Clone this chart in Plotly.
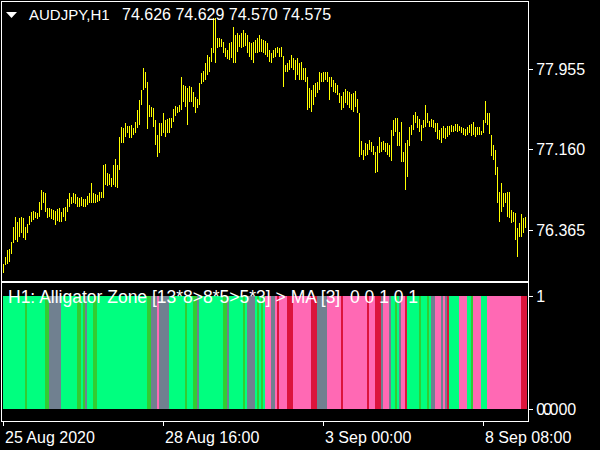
import plotly.graph_objects as go

# ---------------- data ----------------
symbol_name = "AUDJPY,H1"
symbol_ohlc = "74.626 74.629 74.570 74.575"
indicator_title = "H1: Alligator Zone [13*8>8*5>5*3] > MA [3]  0 0 1 0 1"

high = [
    76.037, 76.109, 76.174, 76.181, 76.256, 76.404, 76.496, 76.453, 76.486, 76.496,
    76.486, 76.404, 76.430, 76.509, 76.552, 76.558, 76.552, 76.542, 76.650, 76.765,
    76.748, 76.732, 76.584, 76.584, 76.575, 76.568, 76.561, 76.575, 76.584, 76.552,
    76.591, 76.601, 76.673, 76.739, 76.699, 76.739, 76.725, 76.699, 76.683, 76.699,
    76.673, 76.673, 76.706, 76.739, 76.830, 76.739, 76.725, 76.716, 76.748, 76.748,
    77.011, 77.021, 76.929, 76.922, 76.880, 77.011, 77.067, 77.011, 77.290, 77.388,
    77.372, 77.421, 77.395, 77.395, 77.404, 77.372, 77.437, 77.552, 77.650, 77.749,
    77.962, 77.929, 77.831, 77.601, 77.578, 77.568, 77.454, 77.306, 77.421, 77.421,
    77.526, 77.454, 77.460, 77.470, 77.470, 77.559, 77.591, 77.585, 77.601, 77.880,
    77.798, 77.788, 77.765, 77.788, 77.782, 77.732, 77.677, 77.657, 77.814, 77.919,
    77.939, 78.011, 78.093, 78.077, 78.159, 78.454, 78.454, 78.257, 78.257, 78.247,
    78.224, 78.159, 78.142, 78.208, 78.224, 78.372, 78.290, 78.306, 78.290, 78.313,
    78.339, 78.306, 78.290, 78.224, 78.208, 78.224, 78.241, 78.257, 78.290, 78.247,
    78.241, 78.234, 78.208, 78.142, 78.110, 78.142, 78.159, 78.175, 78.159, 78.169,
    78.083, 77.995, 78.011, 78.044, 78.093, 78.060, 78.044, 78.060, 78.011, 78.028,
    77.962, 77.962, 77.880, 77.765, 77.749, 77.798, 77.814, 77.831, 77.929, 77.913,
    77.929, 77.929, 77.929, 77.880, 77.880, 77.847, 77.814, 77.798, 77.716, 77.690,
    77.732, 77.755, 77.742, 77.732, 77.709, 77.716, 77.742, 77.657, 77.519, 77.250,
    77.158, 77.231, 77.217, 77.257, 77.240, 77.198, 77.142, 77.198, 77.290, 77.240,
    77.250, 77.224, 77.231, 77.208, 77.355, 77.454, 77.470, 77.470, 77.339, 77.437,
    77.142, 77.231, 77.257, 77.388, 77.404, 77.503, 77.536, 77.493, 77.460, 77.404,
    77.454, 77.601, 77.526, 77.447, 77.460, 77.454, 77.427, 77.421, 77.355, 77.372,
    77.395, 77.372, 77.395, 77.395, 77.404, 77.395, 77.414, 77.414, 77.395, 77.381,
    77.372, 77.362, 77.381, 77.404, 77.414, 77.437, 77.388, 77.381, 77.381, 77.349,
    77.454, 77.644, 77.519, 77.526, 77.306, 77.208, 77.158, 76.994, 76.748, 76.837,
    76.732, 76.739, 76.748, 76.748, 76.568, 76.552, 76.535, 76.388, 76.443, 76.529,
    76.486, 76.502,
]

low = [
    75.945, 76.027, 76.037, 76.060, 76.135, 76.240, 76.273, 76.256, 76.306, 76.338,
    76.289, 76.273, 76.338, 76.420, 76.453, 76.470, 76.486, 76.476, 76.496, 76.568,
    76.634, 76.552, 76.486, 76.502, 76.476, 76.470, 76.420, 76.463, 76.453, 76.453,
    76.502, 76.463, 76.552, 76.601, 76.627, 76.634, 76.627, 76.601, 76.601, 76.607,
    76.594, 76.601, 76.617, 76.634, 76.634, 76.634, 76.640, 76.650, 76.660, 76.683,
    76.683, 76.814, 76.804, 76.814, 76.798, 76.814, 76.798, 76.781, 76.962, 77.224,
    77.224, 77.290, 77.329, 77.273, 77.273, 77.306, 77.329, 77.372, 77.404, 77.601,
    77.749, 77.765, 77.362, 77.486, 77.486, 77.388, 77.208, 77.093, 77.126, 77.296,
    77.322, 77.290, 77.329, 77.329, 77.372, 77.437, 77.493, 77.519, 77.535, 77.552,
    77.634, 77.585, 77.404, 77.634, 77.634, 77.585, 77.526, 77.568, 77.601, 77.808,
    77.831, 77.847, 77.896, 77.929, 78.028, 78.110, 78.011, 78.159, 78.175, 78.175,
    78.110, 78.077, 78.051, 78.044, 78.060, 78.011, 78.011, 78.126, 78.175, 78.159,
    78.169, 78.182, 78.110, 78.077, 78.044, 78.011, 78.110, 78.110, 78.126, 78.126,
    78.110, 78.093, 78.077, 78.028, 78.011, 78.060, 78.077, 78.110, 78.070, 78.070,
    77.782, 77.929, 77.929, 77.946, 77.962, 77.946, 77.847, 77.896, 77.847, 77.847,
    77.847, 77.831, 77.552, 77.568, 77.536, 77.601, 77.683, 77.716, 77.749, 77.831,
    77.831, 77.847, 77.831, 77.650, 77.775, 77.732, 77.716, 77.700, 77.618, 77.552,
    77.568, 77.618, 77.601, 77.568, 77.552, 77.536, 77.585, 77.519, 77.093, 77.109,
    77.060, 77.099, 77.109, 77.158, 77.142, 77.109, 76.929, 76.945, 77.132, 77.142,
    77.158, 77.142, 77.109, 77.093, 77.053, 77.296, 77.339, 77.198, 77.198, 77.044,
    77.044, 76.765, 76.890, 77.198, 77.306, 77.355, 77.421, 77.372, 77.339, 77.250,
    77.372, 77.388, 77.421, 77.381, 77.388, 77.372, 77.339, 77.263, 77.257, 77.231,
    77.273, 77.263, 77.290, 77.306, 77.339, 77.339, 77.349, 77.339, 77.349, 77.322,
    77.306, 77.296, 77.306, 77.322, 77.296, 77.306, 77.283, 77.306, 77.306, 77.306,
    77.322, 77.421, 77.404, 77.316, 77.099, 77.060, 76.912, 76.634, 76.453, 76.552,
    76.601, 76.634, 76.502, 76.486, 76.437, 76.453, 76.273, 76.102, 76.306, 76.306,
    76.338, 76.388,
]

# Alligator zone state per bar (run-length): S spring green, L lime green,
# G slate gray, P hot pink, C crimson; every bar has value 1
zone_runs = [
    ("S", 11), ("L", 1), ("S", 9), ("L", 2), ("G", 6), ("S", 8), ("L", 2), ("S", 1),
    ("L", 1), ("G", 1), ("S", 3), ("L", 2), ("S", 25), ("L", 2), ("G", 3), ("P", 1),
    ("G", 5), ("S", 8), ("L", 1), ("S", 3), ("L", 2), ("G", 1), ("S", 12), ("L", 2),
    ("G", 1), ("S", 7), ("L", 1), ("S", 1), ("G", 4), ("S", 1), ("L", 1), ("S", 1),
    ("L", 1), ("S", 1), ("P", 3), ("G", 2), ("P", 1), ("C", 1), ("P", 4), ("C", 3),
    ("P", 9), ("C", 3), ("G", 5), ("P", 7), ("C", 1), ("P", 12), ("C", 1), ("P", 3),
    ("C", 3), ("G", 1), ("P", 3), ("G", 1), ("S", 2), ("L", 1), ("S", 1), ("G", 1),
    ("P", 2), ("C", 1), ("S", 6), ("L", 1), ("S", 3), ("L", 1), ("S", 1), ("G", 2),
    ("P", 3), ("G", 1), ("P", 1), ("G", 1), ("C", 1), ("S", 5), ("P", 4), ("S", 2),
    ("L", 1), ("P", 4), ("S", 3), ("P", 17), ("C", 3),
]
zone_level = 1

price_ticks = [77.955, 77.160, 76.365]
price_tick_labels = ["77.955", "77.160", "76.365"]
zone_ticks = [1, 0]
zone_tick_labels = ["1", "0.000"]
zone_extra_label = "0"
time_tick_bars = [0, 80, 160, 240]
time_tick_labels = ["25 Aug 2020", "28 Aug 16:00", "3 Sep 00:00", "8 Sep 08:00"]

# ---------------- build ----------------
zone_palette = {"S": "#00FF7F", "L": "#32CD32", "G": "#708090", "P": "#FF69B4", "C": "#DC143C"}
zone_codes = [c for c, k in zone_runs for _ in range(k)]
n = len(high)
idx = list(range(n))
rng = [h - l for h, l in zip(high, low)]

W, H = 600, 450
FONT = "Liberation Sans"
WHITE = "#FFFFFF"


def px_x(p):
    return p / W


def px_y(p):
    return 1 - p / H


fig = go.Figure()
fig.add_trace(go.Bar(x=idx, y=rng, base=low, width=0.5,
                     marker=dict(color="#FFFF00", line=dict(width=0)),
                     xaxis="x", yaxis="y", hoverinfo="skip"))
fig.add_trace(go.Bar(x=idx[:len(zone_codes)], y=[zone_level] * len(zone_codes), width=1.0,
                     marker=dict(color=[zone_palette[c] for c in zone_codes], line=dict(width=0)),
                     xaxis="x2", yaxis="y2", hoverinfo="skip"))

xdom = [px_x(2), px_x(528)]
xr = [-0.75, 262.25]
common_axis = dict(showgrid=False, zeroline=False, showline=True, linecolor=WHITE,
                   linewidth=1, mirror=True)
tickfont = dict(family=FONT, size=16, color=WHITE)

fig.update_layout(
    width=W, height=H, margin=dict(l=0, r=0, t=0, b=0, pad=0),
    paper_bgcolor="black", plot_bgcolor="black", showlegend=False,
    bargap=0, barmode="overlay",
    xaxis=dict(domain=xdom, range=xr, anchor="y", showticklabels=False, ticks="",
               **common_axis),
    yaxis=dict(domain=[px_y(281), px_y(2)], range=[75.870, 78.614], anchor="x",
               side="right", tickvals=price_ticks, ticktext=price_tick_labels,
               ticks="outside", ticklen=4, tickcolor=WHITE, tickfont=tickfont,
               **common_axis),
    xaxis2=dict(domain=xdom, range=xr, anchor="y2", tickvals=time_tick_bars,
                ticks="outside", ticklen=4, tickcolor=WHITE, showticklabels=False,
                **common_axis),
    yaxis2=dict(domain=[px_y(421), px_y(283)], range=[-0.106, 1.115], anchor="x2",
                side="right", tickvals=zone_ticks, ticktext=zone_tick_labels,
                ticks="outside", ticklen=4, tickcolor=WHITE, tickfont=tickfont,
                **common_axis),
)

annotations = [
    dict(text=symbol_name, x=px_x(27), y=px_y(15), xref="paper", yref="paper",
         xanchor="left", yanchor="middle", showarrow=False,
         font=dict(family=FONT, size=15, color=WHITE)),
    dict(text=symbol_ohlc, x=px_x(120), y=px_y(15), xref="paper", yref="paper",
         xanchor="left", yanchor="middle", showarrow=False,
         font=dict(family=FONT, size=16, color=WHITE)),
    dict(text=indicator_title, x=px_x(6), y=px_y(297), xref="paper", yref="paper",
         xanchor="left", yanchor="middle", showarrow=False,
         font=dict(family=FONT, size=17.5, color=WHITE)),
    # MetaTrader draws a second "0" level label on top of "0.000"
    dict(text=zone_extra_label, x=px_x(541), y=0, xref="paper", yref="y2",
         xanchor="left", yanchor="middle", showarrow=False,
         font=dict(family=FONT, size=16, color=WHITE)),
]
for b, t in zip(time_tick_bars, time_tick_labels):
    annotations.append(dict(text=t, x=b, y=px_y(437), xref="x2", yref="paper",
                            xanchor="left", yanchor="middle", showarrow=False, xshift=-1,
                            font=dict(family=FONT, size=16, color=WHITE)))
fig.update_layout(annotations=annotations)

fig.add_shape(type="path", xref="paper", yref="paper",
              path=f"M {px_x(6)} {px_y(12)} L {px_x(17)} {px_y(12)} L {px_x(11.5)} {px_y(18)} Z",
              fillcolor=WHITE, line=dict(width=0))

# the page's default 8px body margin would shift the 600x450 figure; remove it
fig.write_html("out.html", config={"displayModeBar": False},
               post_script="document.body.style.margin='0';document.body.style.overflow='hidden';")
